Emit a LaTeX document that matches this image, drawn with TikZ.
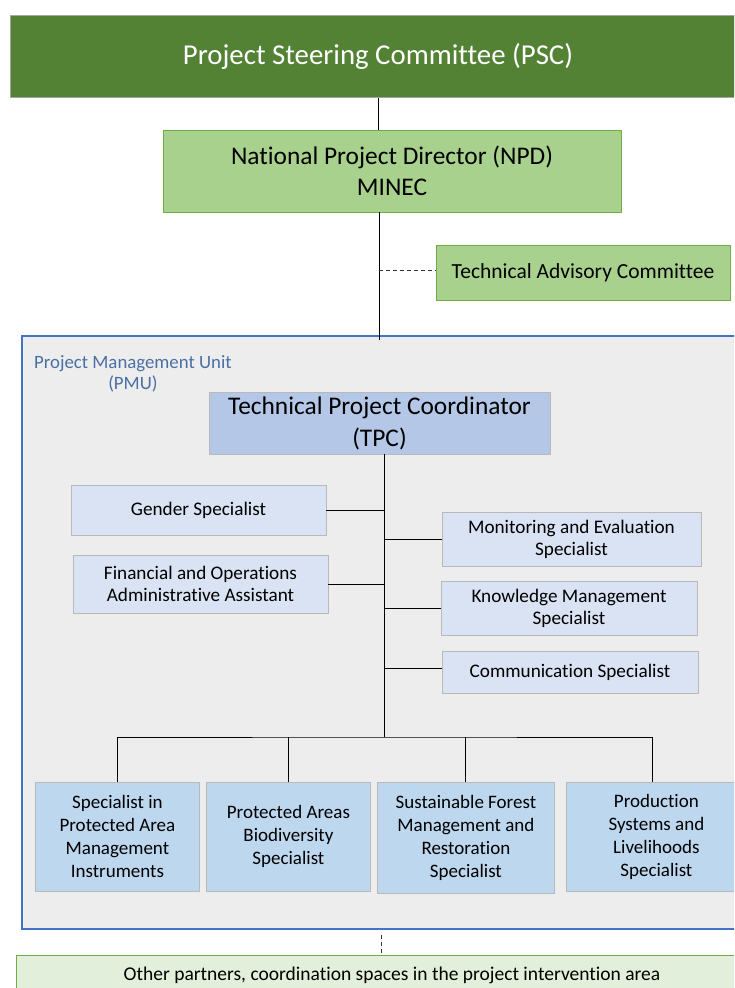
\documentclass[tikz,border=0pt]{standalone}
\usepackage{fontspec}
\setmainfont{Carlito}[Ligatures=NoCommon]
\begin{document}
\begin{tikzpicture}[x=1pt,y=-1pt,
  every node/.style={inner sep=0pt, align=center},
  box/.style={draw=#1, line width=0.8pt},
  psc/.style={box=gray!70, fill=pscgreen},
  npdbox/.style={box=boxgreen, fill=lightgreen, font=\fontsize{25.4}{31}\selectfont},
  tacbox/.style={box=boxgreen, fill=lightgreen, font=\fontsize{21.5}{26}\selectfont},
  tpcbox/.style={box=gray!55, fill=tpcblue, font=\fontsize{25.4}{32}\selectfont},
  staff/.style={box=gray!55, fill=staffblue, font=\fontsize{19.2}{22}\selectfont},
  spec/.style={box=gray!55, fill=specblue, font=\fontsize{19}{23}\selectfont},
  partner/.style={box=boxgreen, fill=palegreen},
  link/.style={draw=black, line width=0.9pt},
  dashlink/.style={draw=black!80, line width=0.8pt, dashed, dash pattern=on 4pt off 3pt}]
\definecolor{pscgreen}{HTML}{548235}
\definecolor{lightgreen}{HTML}{A9D18E}
\definecolor{boxgreen}{HTML}{70AD47}
\definecolor{palegreen}{HTML}{E2EFDA}
\definecolor{tpcblue}{HTML}{B4C7E7}
\definecolor{staffblue}{HTML}{DAE3F3}
\definecolor{specblue}{HTML}{BDD7EE}
\definecolor{pmugray}{HTML}{EDEDED}
\definecolor{pmublue}{HTML}{4472C4}
\definecolor{pmutext}{HTML}{4A6FA5}

\useasboundingbox (0,0) rectangle (734,988);
\clip (0,0) rectangle (734,988);
\fill[white] (0,0) rectangle (734,988);

% Project Management Unit frame
\draw[pmublue, fill=pmugray, line width=1.6pt] (22,336) rectangle (760,929);
\node[text=pmutext, font=\fontsize{18.8}{21}\selectfont, anchor=north west] (pmu) at (34,355)
  {Project Management Unit\\(PMU)};

% Top-level bodies
\node[psc, minimum width=740, minimum height=82, anchor=north west] (psc) at (10,15) {};
\node[text=white, font=\fontsize{28.8}{32}\selectfont] (psclabel) at (378,56) {Project Steering Committee (PSC)};
\node[npdbox, minimum width=458, minimum height=82] (npd) at (392,171)
  {National Project Director (NPD)\\MINEC};
\node[tacbox, minimum width=294, minimum height=55] (tac) at (583,272.5)
  {Technical Advisory Committee};
\node[tpcbox, minimum width=341, minimum height=62] (tpc) at (379.5,423)
  {Technical Project Coordinator\\(TPC)};

% Support staff
\node[staff, minimum width=255, minimum height=50] (gender) at (198.5,510) {Gender Specialist};
\node[staff, minimum width=255, minimum height=58] (finance) at (200.5,584)
  {Financial and Operations\\Administrative Assistant};
\node[staff, minimum width=259, minimum height=54] (me) at (571.5,539)
  {Monitoring\ and Evaluation\\Specialist};
\node[staff, minimum width=256, minimum height=54] (km) at (569,608)
  {Knowledge Management\\Specialist};
\node[staff, minimum width=256, minimum height=42] (comm) at (570,672)
  {Communication\ Specialist};

% Thematic specialists
\node[spec, minimum width=164, minimum height=109, anchor=north west] (paInst) at (35,782)
  {Specialist in\\Protected Area\\Management\\Instruments};
\node[spec, minimum width=164, minimum height=109, anchor=north west] (paBio) at (206,782)
  {Protected Areas\\Biodiversity\\Specialist};
\node[spec, minimum width=177, minimum height=111, anchor=north west] (forest) at (377,782)
  {Sustainable Forest\\Management and\\Restoration\\Specialist};
\node[spec, minimum width=180, minimum height=109, anchor=north west] (prod) at (566,782)
  {Production\\Systems and\\Livelihoods\\Specialist};

% Partners
\node[partner, minimum width=740, minimum height=50, anchor=north west] (partners) at (16,955) {};
\node[font=\fontsize{19.5}{22}\selectfont] (partnerlabel) at (392,975)
  {Other partners, coordination spaces in the project\ intervention area};

% Connector junctions
\coordinate (spine) at (384,454);
\coordinate (bus) at (384,737);
\coordinate (tacJ) at (378.5,270);
\coordinate (pmuTop) at (379,340);
\coordinate (pmuBottom) at (381,935);

% Connectors
\draw[link] (psc.south -| 378,0) -- (npd.north -| 378,0);
\draw[link] (npd.south -| 379,0) -- (pmuTop);
\draw[dashlink] (tacJ) -- (tac.west |- tacJ);
\draw[link] (tpc.south -| spine) -- (bus);
\draw[link] (gender.east) -- (gender.east -| spine);
\draw[link] (finance.east) -- (finance.east -| spine);
\draw[link] (me.west -| spine) -- (me.west);
\draw[link] (km.west -| spine) -- (km.west);
\draw[link] (comm.west |- 0,668) -- (spine |- 0,668);
\draw[link] (paInst.north -| 117,0) |- (bus) -| (prod.north -| 652,0);
\draw[link] (paBio.north -| 288,0) -- (288,737);
\draw[link] (forest.north -| 465,0) -- (465,737);
\draw[dashlink] (pmuBottom) -- (partners.north -| pmuBottom);
\end{tikzpicture}
\end{document}
